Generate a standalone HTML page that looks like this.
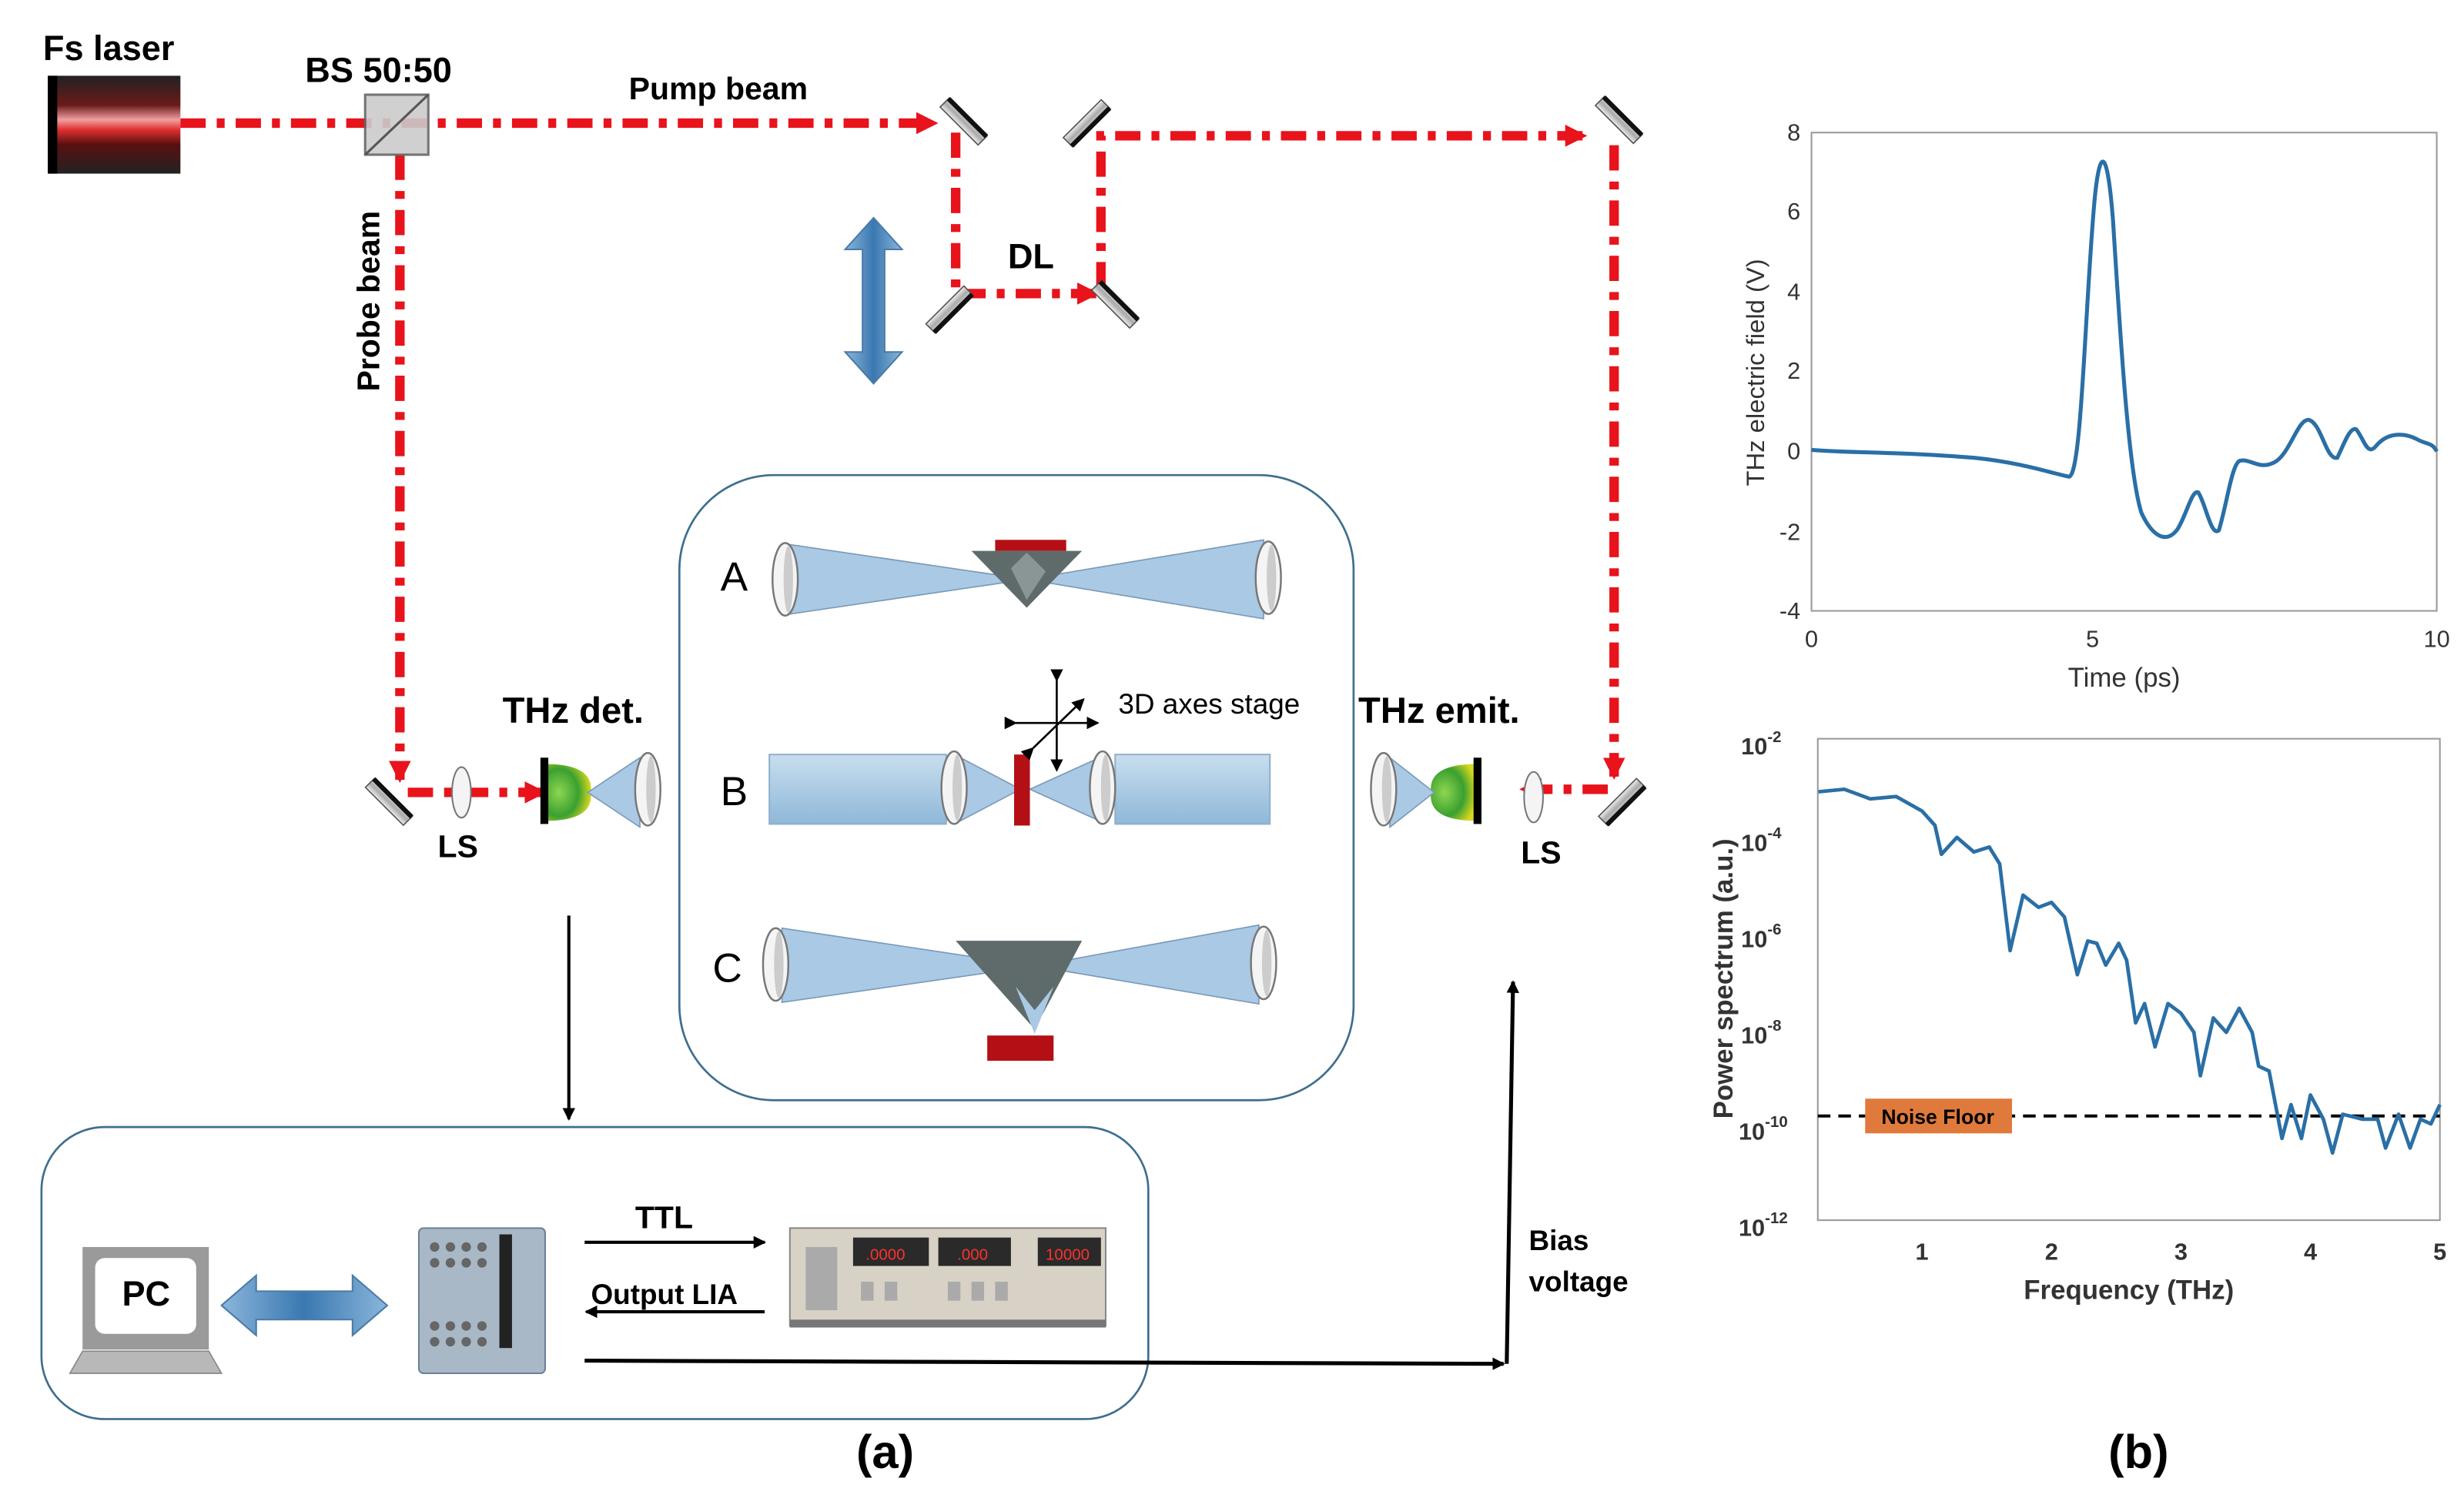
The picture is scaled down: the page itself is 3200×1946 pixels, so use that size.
<!DOCTYPE html>
<html><head><meta charset="utf-8"><style>
html,body{margin:0;padding:0;background:#fff}
svg{display:block}
text{font-family:"Liberation Sans",sans-serif}
</style></head><body>
<svg width="3200" height="1946" viewBox="0 0 1560 949" xmlns="http://www.w3.org/2000/svg">
<defs>
<linearGradient id="las" x1="0" y1="0" x2="0" y2="1">
<stop offset="0" stop-color="#222"/><stop offset="0.3" stop-color="#6a1a1a"/><stop offset="0.45" stop-color="#f0a0a0"/><stop offset="0.55" stop-color="#e03030"/><stop offset="0.7" stop-color="#5a1010"/><stop offset="1" stop-color="#222"/>
</linearGradient>
<linearGradient id="mir" x1="0" y1="0" x2="1" y2="0">
<stop offset="0" stop-color="#eee"/><stop offset="0.5" stop-color="#aaa"/><stop offset="1" stop-color="#ddd"/>
</linearGradient>
<radialGradient id="grn" cx="0.3" cy="0.5" r="0.7">
<stop offset="0" stop-color="#8fd650"/><stop offset="0.6" stop-color="#3aa030"/><stop offset="1" stop-color="#d8d820"/>
</radialGradient>
<linearGradient id="blu" x1="0" y1="0" x2="0" y2="1">
<stop offset="0" stop-color="#c8deef"/><stop offset="1" stop-color="#8fb8d8"/>
</linearGradient>
<linearGradient id="barr" x1="0" y1="0" x2="1" y2="0">
<stop offset="0" stop-color="#8ab6db"/><stop offset="0.5" stop-color="#3a78b0"/><stop offset="1" stop-color="#8ab6db"/>
</linearGradient>
<marker id="ra" markerWidth="16" markerHeight="14" refX="12" refY="7" orient="auto" markerUnits="userSpaceOnUse"><path d="M0,0 L14,7 L0,14z" fill="#e8131b"/></marker>
<marker id="ka" markerWidth="8" markerHeight="8" refX="7" refY="4" orient="auto" markerUnits="userSpaceOnUse"><path d="M0,0 L8,4 L0,8z" fill="#000"/></marker>
<g id="mirror"><rect x="-4" y="-17" width="8" height="34" fill="url(#mir)" stroke="#555" stroke-width="0.8"/><rect x="2" y="-17" width="3" height="34" fill="#111"/></g>
<g id="lens"><ellipse cx="0" cy="0" rx="8" ry="23" fill="#f4f4f4" stroke="#777" stroke-width="1.2"/><ellipse cx="2" cy="0" rx="3" ry="21" fill="#ccc"/></g>
</defs>

<rect x="30" y="48" width="84" height="62" fill="url(#las)"/>
<rect x="30" y="48" width="6" height="62" fill="#000"/>
<text x="27" y="38" font-size="22" font-weight="bold">Fs laser</text>
<text x="193" y="52" font-size="22" font-weight="bold">BS 50:50</text>
<text x="398" y="63" font-size="20" font-weight="bold">Pump beam</text>

<g fill="none" stroke="#e8131b" stroke-width="6" stroke-dasharray="16,7,5,7" stroke-linecap="butt">
<path d="M114 78 H592" marker-end="url(#ra)"/>
<path d="M605 84 V186 H694" marker-end="url(#ra)"/>
<path d="M697 182 V86 H1003" marker-end="url(#ra)"/>
<path d="M1022 92 V492" marker-end="url(#ra)"/>
<path d="M1018 500 H964" marker-end="url(#ra)"/>
<path d="M253 98 V494" marker-end="url(#ra)"/>
<path d="M258 502 H344" marker-end="url(#ra)"/>
</g>
<rect x="231" y="60" width="40" height="38" fill="#ccc" stroke="#666" stroke-width="1.5" opacity="0.9"/>
<line x1="231" y1="98" x2="271" y2="60" stroke="#555" stroke-width="1.5"/>

<use href="#mirror" transform="translate(610,77) rotate(-45)"/>
<use href="#mirror" transform="translate(688,78) rotate(45)"/>
<use href="#mirror" transform="translate(601,196) rotate(45)"/>
<use href="#mirror" transform="translate(706,193) rotate(-45)"/>
<use href="#mirror" transform="translate(1025,76) rotate(-45)"/>
<use href="#mirror" transform="translate(1027,508) rotate(45)"/>
<use href="#mirror" transform="translate(246,508) rotate(-45)"/>

<text x="638" y="170" font-size="22" font-weight="bold">DL</text>
<text transform="translate(240,248) rotate(-90)" font-size="20" font-weight="bold">Probe beam</text>

<path d="M553 138 L571 158 L560 158 L560 223 L571 223 L553 243 L535 223 L546 223 L546 158 L535 158 Z" fill="url(#barr)" stroke="#4a7aa8" stroke-width="1"/>

<g transform="translate(292,502)"><ellipse rx="6" ry="16" fill="#f4f4f4" stroke="#777"/></g>
<text x="277" y="543" font-size="20" font-weight="bold">LS</text>
<path d="M345 484 Q376 484 374 502 Q376 520 345 520" fill="url(#grn)"/>
<rect x="342" y="480" width="5" height="42" fill="#000"/>
<path d="M372 502 L405 480 L405 524 Z" fill="#a9c9e4" stroke="#7a9ab8" stroke-width="0.8"/>
<use href="#lens" transform="translate(410,500)"/>
<text x="318" y="458" font-size="23" font-weight="bold">THz det.</text>

<g transform="translate(971,505)"><ellipse rx="6" ry="16" fill="#f4f4f4" stroke="#777"/></g>
<text x="963" y="547" font-size="20" font-weight="bold">LS</text>
<path d="M935 484 Q904 484 906 502 Q904 520 935 520 Z" fill="url(#grn)"/>
<rect x="933" y="480" width="5" height="42" fill="#000"/>
<path d="M908 502 L880 480 L880 524 Z" fill="#a9c9e4" stroke="#7a9ab8" stroke-width="0.8"/>
<use href="#lens" transform="translate(876,500)"/>
<text x="860" y="458" font-size="23" font-weight="bold">THz emit.</text>

<rect x="430" y="301" width="427" height="396" rx="60" fill="none" stroke="#3e6e8e" stroke-width="1.3"/>
<text x="456" y="374" font-size="26">A</text>
<text x="456" y="510" font-size="26">B</text>
<text x="451" y="622" font-size="26">C</text>
<path d="M500 345 L650 367 L500 389 Z" fill="#a9c9e4" stroke="#7a9ab8" stroke-width="0.8"/>
<path d="M800 342 L650 367 L800 392 Z" fill="#a9c9e4" stroke="#7a9ab8" stroke-width="0.8"/>
<rect x="630" y="342" width="45" height="7" fill="#b50f16"/>
<path d="M615 349 L685 349 L650 385 Z" fill="#5f6b6b"/>
<path d="M640 360 L650 350 L662 362 L650 380 Z" fill="#8a9696"/>
<use href="#lens" transform="translate(497,367)"/>
<use href="#lens" transform="translate(803,366)"/>
<rect x="487" y="478" width="112" height="44" fill="url(#blu)" stroke="#8fb0cc"/>
<rect x="706" y="478" width="98" height="44" fill="url(#blu)" stroke="#8fb0cc"/>
<path d="M608 480 L646 500 L608 520 Z" fill="#a9c9e4" stroke="#7a9ab8" stroke-width="0.8"/>
<path d="M696 480 L652 500 L696 520 Z" fill="#a9c9e4" stroke="#7a9ab8" stroke-width="0.8"/>
<rect x="642" y="478" width="10" height="45" fill="#b50f16"/>
<use href="#lens" transform="translate(604,499)"/>
<use href="#lens" transform="translate(698,499)"/>
<g stroke="#000" stroke-width="1.3" fill="none">
<line x1="643" y1="458" x2="695" y2="458" marker-end="url(#ka)" marker-start="url(#ka)"/>
<line x1="669" y1="431" x2="669" y2="488" marker-end="url(#ka)" marker-start="url(#ka)"/>
<line x1="654" y1="474" x2="686" y2="443" marker-end="url(#ka)" marker-start="url(#ka)"/>
</g>
<text x="708" y="452" font-size="18">3D axes stage</text>
<path d="M495 588 L655 612 L495 635 Z" fill="#a9c9e4" stroke="#7a9ab8" stroke-width="0.8"/>
<path d="M797 586 L655 612 L797 636 Z" fill="#a9c9e4" stroke="#7a9ab8" stroke-width="0.8"/>
<path d="M605 596 L685 596 L655 652 Z" fill="#5f6b6b"/>
<path d="M643 625 L655 655 L667 625 L655 640 Z" fill="#a9c9e4"/>
<rect x="625" y="656" width="42" height="16" fill="#b50f16"/>
<use href="#lens" transform="translate(491,611)"/>
<use href="#lens" transform="translate(800,610)"/>

<line x1="360" y1="580" x2="360" y2="709" stroke="#000" stroke-width="2" marker-end="url(#ka)"/>

<rect x="26" y="714" width="701" height="185" rx="40" fill="none" stroke="#3e6e8e" stroke-width="1.3"/>
<rect x="52" y="790" width="80" height="65" fill="#9a9a9a"/>
<rect x="60" y="797" width="64" height="48" rx="6" fill="#fff"/>
<path d="M52 856 L132 856 L140 870 L44 870 Z" fill="#b8b8b8" stroke="#888" stroke-width="0.8"/>
<text x="77" y="827" font-size="22" font-weight="bold">PC</text>
<path d="M140 827 L162 808 L162 818 L223 818 L223 808 L245 827 L223 846 L223 836 L162 836 L162 846 Z" fill="url(#barr)" stroke="#4a7aa8" stroke-width="1"/>
<rect x="265" y="778" width="80" height="92" rx="3" fill="#a9b8c6" stroke="#6a8098"/>
<rect x="316" y="782" width="8" height="72" fill="#222"/>
<g fill="#666">
<circle cx="275" cy="790" r="3"/><circle cx="285" cy="790" r="3"/><circle cx="295" cy="790" r="3"/><circle cx="305" cy="790" r="3"/>
<circle cx="275" cy="800" r="3"/><circle cx="285" cy="800" r="3"/><circle cx="295" cy="800" r="3"/><circle cx="305" cy="800" r="3"/>
<circle cx="275" cy="840" r="3"/><circle cx="285" cy="840" r="3"/><circle cx="295" cy="840" r="3"/><circle cx="305" cy="840" r="3"/>
<circle cx="275" cy="850" r="3"/><circle cx="285" cy="850" r="3"/><circle cx="295" cy="850" r="3"/><circle cx="305" cy="850" r="3"/>
</g>
<rect x="500" y="778" width="200" height="62" fill="#d8d2c6" stroke="#888"/>
<rect x="540" y="784" width="48" height="18" fill="#2a2a2a"/><rect x="594" y="784" width="46" height="18" fill="#2a2a2a"/><rect x="657" y="784" width="40" height="18" fill="#2a2a2a"/>
<text x="548" y="798" font-size="10" fill="#ff3030">.0000</text><text x="606" y="798" font-size="10" fill="#ff3030">.000</text><text x="662" y="798" font-size="10" fill="#ff3030">10000</text>
<rect x="500" y="836" width="200" height="5" fill="#777"/>
<g fill="#aaa"><rect x="545" y="812" width="8" height="12"/><rect x="560" y="812" width="8" height="12"/><rect x="600" y="812" width="8" height="12"/><rect x="615" y="812" width="8" height="12"/><rect x="630" y="812" width="8" height="12"/><rect x="510" y="790" width="20" height="40"/></g>
<line x1="370" y1="787" x2="484" y2="787" stroke="#000" stroke-width="2" marker-end="url(#ka)"/>
<text x="402" y="778" font-size="20" font-weight="bold">TTL</text>
<line x1="484" y1="831" x2="371" y2="831" stroke="#000" stroke-width="2" marker-end="url(#ka)"/>
<text x="374" y="826" font-size="18" font-weight="bold">Output LIA</text>
<path d="M370 862 L952 864" stroke="#000" stroke-width="2.5" fill="none" marker-end="url(#ka)"/>
<path d="M954 864 L958 622" stroke="#000" stroke-width="2.5" fill="none" marker-end="url(#ka)"/>
<text x="968" y="792" font-size="18" font-weight="bold">Bias</text>
<text x="968" y="818" font-size="18" font-weight="bold">voltage</text>
<text x="542" y="930" font-size="30" font-weight="bold">(a)</text>
<text x="1335" y="930" font-size="30" font-weight="bold">(b)</text>

<rect x="1147" y="84" width="396" height="303" fill="none" stroke="#999" stroke-width="1"/>
<g font-size="15" fill="#333" text-anchor="end">
<text x="1140" y="89">8</text><text x="1140" y="139">6</text><text x="1140" y="190">4</text><text x="1140" y="240">2</text><text x="1140" y="291">0</text><text x="1140" y="342">-2</text><text x="1140" y="392">-4</text>
</g>
<g font-size="15" fill="#333" text-anchor="middle">
<text x="1147" y="410">0</text><text x="1325" y="410">5</text><text x="1543" y="410">10</text>
<text x="1345" y="435" font-size="17">Time (ps)</text>
</g>
<text transform="translate(1117,236) rotate(-90)" font-size="16" fill="#333" text-anchor="middle">THz electric field (V)</text>
<path d="M1147 285 C1170 287 1200 286 1250 290 C1280 293 1300 300 1310 302 C1318 302 1320 200 1326 130 C1329 95 1334 88 1338 140 C1343 220 1348 300 1356 325 C1363 340 1372 345 1379 335 C1385 325 1388 310 1392 312 C1397 320 1400 340 1405 336 C1410 320 1413 295 1418 292 C1425 290 1430 298 1440 293 C1450 288 1455 265 1462 266 C1470 268 1473 292 1480 290 C1484 282 1488 270 1492 272 C1497 278 1499 290 1505 282 C1512 274 1522 274 1530 278 C1537 282 1540 280 1543 286" fill="none" stroke="#2a6fa6" stroke-width="2.5"/>

<rect x="1151" y="468" width="394" height="305" fill="none" stroke="#999" stroke-width="1"/>
<g font-size="15" font-weight="bold" fill="#333" text-anchor="end">
<text x="1128" y="478">10<tspan font-size="10" dy="-8">-2</tspan></text>
<text x="1128" y="539">10<tspan font-size="10" dy="-8">-4</tspan></text>
<text x="1128" y="600">10<tspan font-size="10" dy="-8">-6</tspan></text>
<text x="1128" y="661">10<tspan font-size="10" dy="-8">-8</tspan></text>
<text x="1132" y="722">10<tspan font-size="10" dy="-8">-10</tspan></text>
<text x="1132" y="783">10<tspan font-size="10" dy="-8">-12</tspan></text>
</g>
<g font-size="15" font-weight="bold" fill="#333" text-anchor="middle">
<text x="1217" y="798">1</text><text x="1299" y="798">2</text><text x="1381" y="798">3</text><text x="1463" y="798">4</text><text x="1545" y="798">5</text>
<text x="1348" y="823" font-size="17">Frequency (THz)</text>
</g>
<text transform="translate(1097,620) rotate(-90)" font-size="17" font-weight="bold" fill="#333" text-anchor="middle">Power spectrum (a.u.)</text>
<line x1="1151" y1="707" x2="1545" y2="707" stroke="#000" stroke-width="2" stroke-dasharray="8,5"/>
<rect x="1181" y="696" width="93" height="22" fill="#e07a3c"/>
<text x="1227" y="712" font-size="13" font-weight="bold" text-anchor="middle">Noise  Floor</text>
<polyline fill="none" stroke="#2a6fa6" stroke-width="2.3" stroke-linejoin="round" points="1151.4,501.6 1167.8,500 1184.2,506.1 1200.6,504.6 1217,513.8 1225.2,522.9 1229.3,541.2 1239.1,530.5 1249.8,539.7 1259.6,536.6 1266.2,547.3 1272.8,602.2 1281,567.1 1290.8,574.8 1299,571.7 1307.2,580.9 1315.4,617.5 1322,596.1 1327.7,597.6 1333.4,611.4 1341.6,597.6 1346.6,608.3 1352.3,648 1358,635.8 1364.6,663.2 1372.8,635.8 1381,641.9 1389.2,654 1393.3,681.5 1401.5,644.9 1409.7,654 1417.9,638.8 1426.1,654 1430.2,675.4 1436.8,678.5 1445,721.2 1450.7,699.8 1457.3,721.2 1463,693.7 1471.2,709 1477,730.4 1483.5,705.9 1495.8,709 1505.6,709 1510.6,727.3 1518.8,705.9 1526.1,727.3 1532.7,709 1539.3,712 1545,699.8"/>
</svg>
</body></html>
